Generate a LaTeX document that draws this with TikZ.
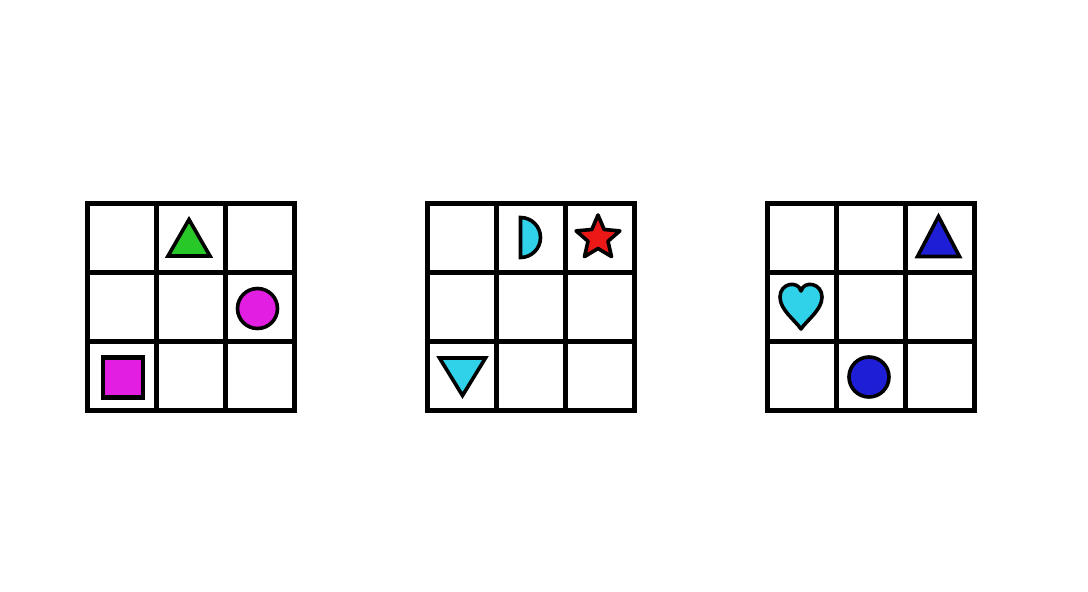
\documentclass[tikz,border=0pt]{standalone}
\begin{document}
\begin{tikzpicture}[x=1pt,y=1pt,
  gridline/.style={line width=5pt,black},
  shp/.style={draw=black,line width=3.6pt,line join=miter},
  shpr/.style={draw=black,line width=3.6pt,line join=round}]
\definecolor{cgreen}{RGB}{40,200,40}
\definecolor{cmag}{RGB}{226,30,226}
\definecolor{ccyan}{RGB}{48,210,234}
\definecolor{cblue}{RGB}{30,30,214}
\definecolor{cred}{RGB}{236,24,24}
\fill[white] (0,0) rectangle (1088,-592);
\useasboundingbox (0,0) rectangle (1088,-592);
% grids
\foreach \L in {87.5,427,767}{
  \draw[gridline] (\L,-203) rectangle ++(207,-207);
  \draw[gridline] (\L+69,-203) -- ++(0,-207);
  \draw[gridline] (\L+138,-203) -- ++(0,-207);
  \draw[gridline] (\L,-272) -- ++(207,0);
  \draw[gridline] (\L,-341) -- ++(207,0);
}
% grid 1
\draw[shp,fill=cgreen] (189,-219.5) -- (210,-256) -- (168,-256) -- cycle;
\draw[shp,fill=cmag] (257.5,-308.5) circle (20);
\draw[shp,line width=4.4pt,fill=cmag] (103,-357.5) rectangle (143,-397.5);
% grid 2
\draw[shp,fill=ccyan] (520.5,-217.5) arc (90:-90:20) -- cycle;
\begin{scope}[shift={(598,-238)}]
\draw[shpr,fill=cred] (90:23) -- (126:10.5) -- (162:23) -- (198:10.5) -- (234:23)
  -- (270:10.5) -- (306:23) -- (342:10.5) -- (18:23) -- (54:10.5) -- cycle;
\end{scope}
\draw[shp,fill=ccyan] (439.5,-358) -- (485.5,-358) -- (462.5,-395.5) -- cycle;
% grid 3
\draw[shp,fill=cblue] (938.5,-216.5) -- (959.5,-256.5) -- (917.5,-256.5) -- cycle;
\draw[shpr,fill=ccyan] (801,-329) .. controls (795,-320) and (780,-310) .. (780,-297)
  .. controls (780,-283) and (798,-280) .. (801,-291)
  .. controls (804,-280) and (822,-283) .. (822,-297)
  .. controls (822,-310) and (807,-320) .. (801,-329) -- cycle;
\draw[shp,fill=cblue] (869,-377) circle (20);
\end{tikzpicture}
\end{document}
